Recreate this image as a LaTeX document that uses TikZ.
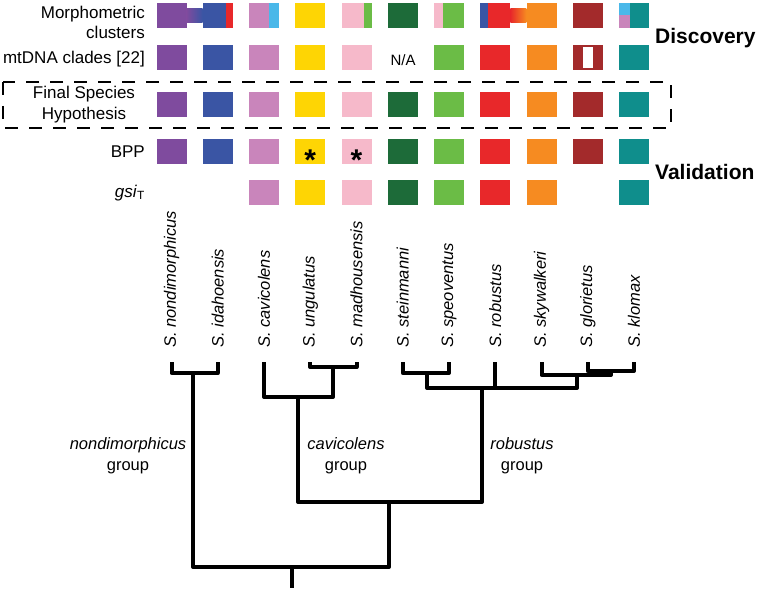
\documentclass[tikz,border=0pt]{standalone}
\usepackage{fontspec}
\setmainfont{Liberation Sans}
\definecolor{purp}{HTML}{7F4B9E}
\definecolor{blu}{HTML}{3A55A4}
\definecolor{orch}{HTML}{C985BB}
\definecolor{yel}{HTML}{FED504}
\definecolor{lpink}{HTML}{F6B9CA}
\definecolor{dgreen}{HTML}{1D6B39}
\definecolor{grn}{HTML}{6BBC46}
\definecolor{rd}{HTML}{E8282A}
\definecolor{orng}{HTML}{F68B21}
\definecolor{dred}{HTML}{A32A2B}
\definecolor{teal}{HTML}{0F8E8C}
\definecolor{lblue}{HTML}{4AB8E9}
\begin{document}
\begin{tikzpicture}[x=1pt, y=-1pt, line join=round,
	sq/.style = {rectangle, minimum width=30pt, minimum height=25pt, inner sep=0pt, fill=#1},
	lab/.style = {font=\fontsize{17}{20}\selectfont, align=right, anchor=east, inner sep=0pt},
	big/.style = {font=\fontsize{21}{24}\selectfont\bfseries, anchor=west, inner sep=0pt},
	sp/.style = {font=\fontsize{16.5}{20}\selectfont\itshape, rotate=90, anchor=west, inner sep=0pt},
	grp/.style = {font=\fontsize{16.5}{21}\selectfont, align=center},
	star/.style = {font=\fontsize{30}{30}\selectfont\bfseries, anchor=base, inner sep=0pt},
	br/.style = {line width=4pt}]
	\useasboundingbox (0,0) rectangle (759,588);
	
	% row labels
	\node[lab] (morph) at (145,22) {Morphometric\\clusters};
	\node[lab] (mt) at (145,59) {mtDNA clades [22]};
	\node[grp, font=\fontsize{17}{21}\selectfont] (fsh) at (84,104.5) {Final Species\\Hypothesis};
	\node[lab] (bpp) at (145,152) {BPP};
	\node[lab] (gsi) at (145,193) {\textit{gsi}\textsubscript{T}};
	\node[big] (disc) at (655,38) {Discovery};
	\node[big] (valid) at (655,172) {Validation};
	
	% squares
	\foreach \c [count=\i] in {purp,blu,orch,yel,lpink,dgreen,grn,rd,orng,dred,teal} {
		\node[sq=\c] (m\i) at ({171.5+46.25*(\i-1)},15.5) {};
		\node[sq=\c] (f\i) at ({171.5+46.25*(\i-1)},104.5) {};
		\node[sq=\c] (b\i) at ({171.5+46.25*(\i-1)},151.5) {};
		\coordinate (t\i) at ({171.5+46.25*(\i-1)},362);
	}
	\foreach \i/\c in {1/purp,2/blu,3/orch,4/yel,5/lpink,7/grn,8/rd,9/orng,10/dred,11/teal}
		\node[sq=\c] (d\i) at ({171.5+46.25*(\i-1)},57.5) {};
	\foreach \i/\c in {3/orch,4/yel,5/lpink,6/dgreen,7/grn,8/rd,9/orng,11/teal}
		\node[sq=\c] (g\i) at ({171.5+46.25*(\i-1)},192.5) {};
	\node[font=\fontsize{15}{18}\selectfont] (na) at (403,60) {N/A};
	
	% mixed clusters
	\shade[left color=purp, right color=blu] ([yshift=-7pt]m1.east) rectangle ([yshift=7pt]m2.west);
	\fill[rd] ([xshift=-7pt]m2.north east) rectangle (m2.south east);
	\fill[lblue] ([xshift=-10pt]m3.north east) rectangle (m3.south east);
	\fill[grn] ([xshift=-8pt]m5.north east) rectangle (m5.south east);
	\fill[lpink] (m7.north west) rectangle ([xshift=9pt]m7.south west);
	\fill[blu] (m8.north west) rectangle ([xshift=8pt]m8.south west);
	\shade[left color=rd, right color=orng] ([yshift=-7pt]m8.east) rectangle ([yshift=7pt]m9.west);
	\fill[lblue] (m11.north west) rectangle ([xshift=11pt]m11.west);
	\fill[orch] (m11.west) rectangle ([xshift=11pt]m11.south west);
	\fill[white] ([xshift=-5pt,yshift=-2pt]d10.north) rectangle ([xshift=5pt,yshift=2pt]d10.south);
	
	% asterisks
	\node[star] (a4) at (310.25,170) {*};
	\node[star] (a5) at (356.5,170) {*};
	
	\draw[line width=2pt, dash pattern=on 13pt off 11pt] (3,82) rectangle (671,128);
	
	% species
	\foreach \n [count=\i] in {nondimorphicus,idahoensis,cavicolens,ungulatus,madhousensis,steinmanni,speoventus,robustus,skywalkeri,glorietus,klomax}
		\node[sp] (s\i) at ({171.5+46.25*(\i-1)},348) {S. \n};
	
	% tree
	\coordinate (j12) at (193,373);
	\coordinate (j45) at (333,367);
	\coordinate (jcav) at (298,397);
	\coordinate (j67) at (427,373);
	\coordinate (j1011) at (611,371);
	\coordinate (j911) at (577,375);
	\coordinate (jrob) at (482,388);
	\coordinate (jcr) at (389,502);
	\coordinate (jroot) at (292,567);
	\coordinate (root) at (292,588);
	
	\draw[br] (t1) |- (j12) -| (t2);
	\draw[br] (t4) |- (j45) -| (t5);
	\draw[br] (t3) |- (jcav) -| (j45);
	\draw[br] (t6) |- (j67) -| (t7);
	\draw[br] (t10) |- (j1011) -| (t11);
	\draw[br] (t9) |- (j911) -| (j1011);
	\draw[br] (j67) |- (jrob) -| (j911);
	\draw[br] (t8) -- (t8 |- jrob);
	\draw[br] (jcav) |- (jcr) -| (jrob);
	\draw[br] (j12) |- (jroot) -| (jcr);
	\draw[br] (jroot) -- (root);
	
	\node[grp] (gnon) at (128,456) {\textit{nondimorphicus}\\group};
	\node[grp] (gcav) at (346,456) {\textit{cavicolens}\\group};
	\node[grp] (grob) at (522,456) {\textit{robustus}\\group};
\end{tikzpicture}
\end{document}
